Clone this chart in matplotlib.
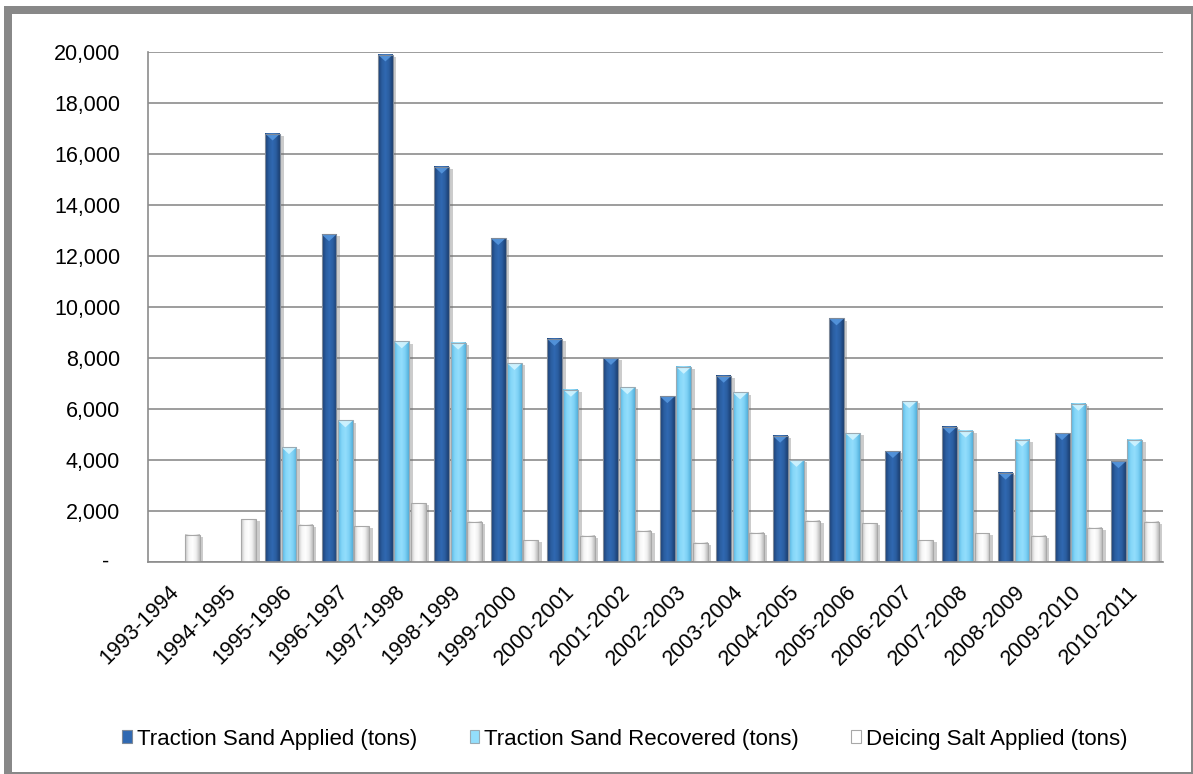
import numpy as np
import matplotlib
matplotlib.use("Agg")
import matplotlib.pyplot as plt
from matplotlib.patches import Rectangle, Polygon
from matplotlib.colors import LinearSegmentedColormap
from matplotlib import patheffects as pe
from matplotlib.transforms import ScaledTranslation
from matplotlib.ticker import FuncFormatter

# ---- data -------------------------------------------------------------
seasons = ["1993-1994", "1994-1995", "1995-1996", "1996-1997", "1997-1998",
           "1998-1999", "1999-2000", "2000-2001", "2001-2002", "2002-2003",
           "2003-2004", "2004-2005", "2005-2006", "2006-2007", "2007-2008",
           "2008-2009", "2009-2010", "2010-2011"]

sand_applied = [np.nan, np.nan, 16800, 12850, 19900, 15500, 12700, 8750, 8000,
                6500, 7300, 4950, 9550, 4350, 5300, 3500, 5050, 3950]
sand_recovered = [np.nan, np.nan, 4500, 5550, 8650, 8600, 7800, 6750, 6850,
                  7650, 6650, 4000, 5050, 6300, 5150, 4800, 6200, 4800]
salt_applied = [1070, 1670, 1460, 1410, 2300, 1570, 860, 1030, 1230,
                760, 1140, 1620, 1520, 860, 1130, 1030, 1350, 1580]

series_names = ["Traction Sand Applied (tons)",
                "Traction Sand Recovered (tons)",
                "Deicing Salt Applied (tons)"]
y_ticks = list(range(0, 20001, 2000))

# ---- styling ----------------------------------------------------------
plt.rcParams['font.family'] = ['Liberation Sans', 'DejaVu Sans']
FS = 15.5

styles = [
    dict(base='#2A5D9F', edge='#7F8A99', bevel='#5596DE',
         stops=['#1A3D70', '#2A5D9F', '#3069B2', '#2A5D9F', '#1B3E70']),
    dict(base='#7FD3F7', edge='#9AAAB3', bevel='#D2F4FF',
         stops=['#56B6E2', '#84D6F8', '#93DEFC', '#7ED1F5', '#52B0DC']),
    dict(base='#FFFFFF', edge='#A8A8A8', bevel=None,
         stops=['#C4C4C4', '#F4F4F4', '#FFFFFF', '#F0F0F0', '#BDBDBD']),
]

W, H = 1193, 774
fig = plt.figure(figsize=(W / 100, H / 100), dpi=100)
fig.patch.set_facecolor('white')


def px_rect(x0, y0, x1, y1, **kw):
    return Rectangle((x0 / W, 1 - y1 / H), (x1 - x0) / W, (y1 - y0) / H,
                     transform=fig.transFigure, **kw)


# chart-area frame
fig.patches.append(px_rect(4, 6, 1193, 773.5, facecolor='#888888',
                           edgecolor='none', zorder=-2))
fig.patches.append(px_rect(12, 14, 1191, 771.5, facecolor='white',
                           edgecolor='none', zorder=-1))

ax = fig.add_axes([148 / W, 1 - 562 / H, (1163 - 148) / W, (562 - 52) / H])
ax.set_facecolor('none')

x = np.arange(len(seasons))
width = 0.265
offsets = [-0.29, 0.0, 0.29]
bevel_depth = 270

handles = []
for vals, off, st in zip([sand_applied, sand_recovered, salt_applied], offsets, styles):
    v = np.asarray(vals, dtype=float)
    ok = np.isfinite(v)
    cmap = LinearSegmentedColormap.from_list('g', st['stops'])
    grad = cmap(np.linspace(0, 1, 64))[np.newaxis, :, :3]
    bars = ax.bar(x[ok] + off, v[ok], width, color=st['base'], edgecolor='none',
                  zorder=2,
                  path_effects=[pe.SimplePatchShadow(offset=(2.5, -1.5),
                                                     shadow_rgbFace='#6E6E6E',
                                                     alpha=0.35),
                                pe.Normal()])
    for b in bars:
        x0, w, h = b.get_x(), b.get_width(), b.get_height()
        ax.imshow(grad, extent=(x0, x0 + w, 0, h), aspect='auto',
                  interpolation='bilinear', zorder=2.2)
        if st['bevel']:
            ax.add_patch(Polygon([(x0, h), (x0 + w, h), (x0 + w / 2, h - bevel_depth)],
                                 closed=True, facecolor=st['bevel'],
                                 edgecolor='none', alpha=0.9, zorder=2.3))
        ax.add_patch(Rectangle((x0, 0), w, h, fill=False, edgecolor=st['edge'],
                               lw=0.8, zorder=2.4))
    handles.append(Rectangle((0, 0), 1, 1, facecolor=st['stops'][2],
                             edgecolor=st['edge'], lw=0.8))

# ---- axes ---------------------------------------------------------------
ax.set_xlim(-0.5, len(seasons) - 0.5)
ax.set_ylim(0, 20000)
ax.set_yticks(y_ticks)
ax.yaxis.set_major_formatter(FuncFormatter(lambda v, p: f"{int(v):,}" if v else ""))
ax.yaxis.grid(True, color='#8C8C8C', lw=1.2)
ax.set_axisbelow(True)
for s in ('top', 'right'):
    ax.spines[s].set_visible(False)
for s in ('left', 'bottom'):
    ax.spines[s].set_color('#8C8C8C')
    ax.spines[s].set_linewidth(1.2)
ax.tick_params(axis='y', length=0, pad=20, labelsize=FS)
ax.text(0, 0, "-", transform=ax.get_yaxis_transform()
        + ScaledTranslation(-42 / 100, 0, fig.dpi_scale_trans),
        ha='center', va='center', fontsize=FS)

ax.set_xticks(x)
ax.set_xticklabels(seasons, rotation=45, ha='right', va='center',
                   rotation_mode='anchor', fontsize=FS)
ax.tick_params(axis='x', length=0, pad=19.5)

fig.legend(handles, series_names, loc='center', ncol=3,
           bbox_to_anchor=(625 / W, 1 - 739 / H), frameon=False, fontsize=16,
           handlelength=0.42, handleheight=0.55, handletextpad=0.25,
           columnspacing=2.35, borderpad=0, borderaxespad=0)

fig.savefig('out.png', dpi=100, facecolor='white')
